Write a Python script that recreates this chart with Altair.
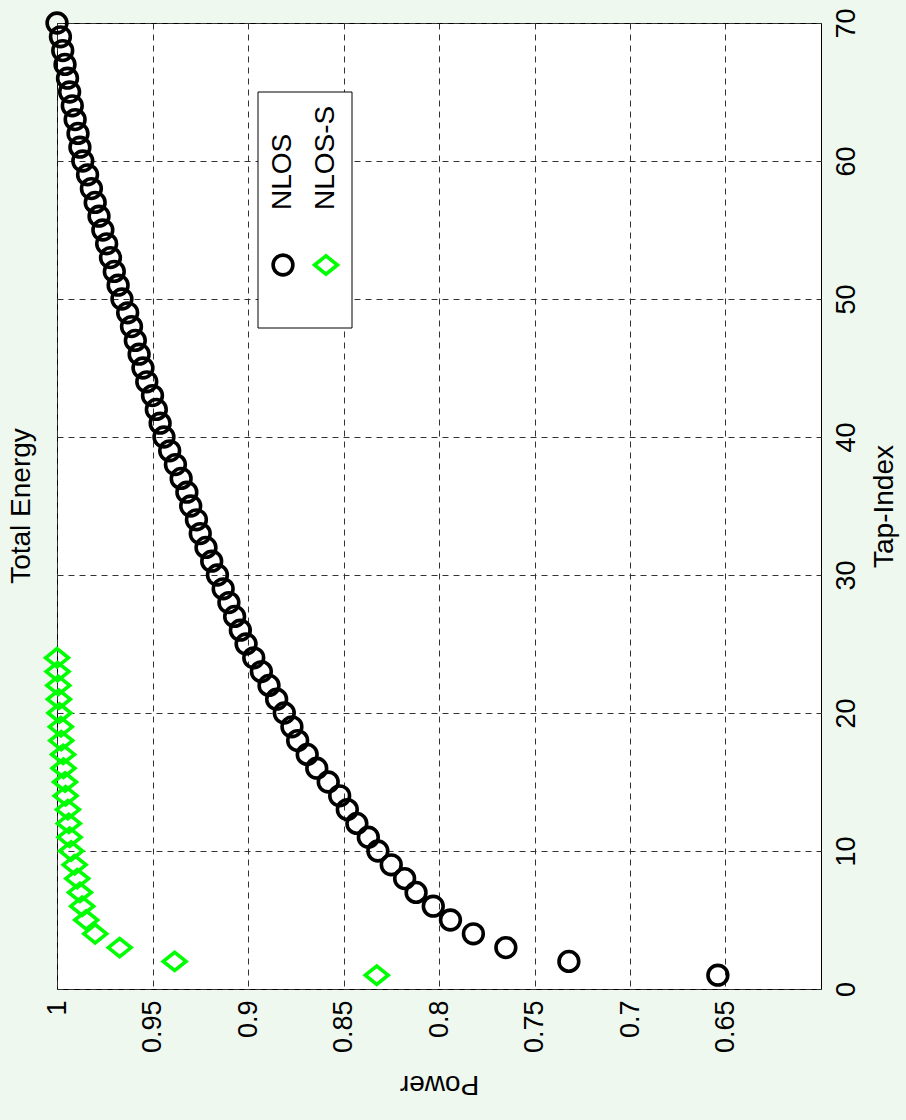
import altair as alt
import pandas as pd

# ---------------- data ----------------
SERIES = ["NLOS", "NLOS-S"]

TAP_NLOS = list(range(1, 71))
POWER_NLOS = [
    0.654, 0.732, 0.765, 0.782, 0.794, 0.803, 0.812, 0.818, 0.825, 0.832,
    0.837, 0.843, 0.848, 0.852, 0.858, 0.864, 0.869, 0.874, 0.877, 0.881,
    0.885, 0.889, 0.893, 0.897, 0.901, 0.904, 0.907, 0.910, 0.913, 0.916,
    0.919, 0.922, 0.925, 0.927, 0.930, 0.932, 0.935, 0.938, 0.941, 0.944,
    0.946, 0.948, 0.950, 0.953, 0.955, 0.957, 0.959, 0.961, 0.963, 0.966,
    0.968, 0.970, 0.972, 0.974, 0.976, 0.978, 0.980, 0.982, 0.984, 0.9865,
    0.988, 0.989, 0.9905, 0.992, 0.9934, 0.9945, 0.9958, 0.997, 0.9982, 1.0,
]

TAP_NLOS_S = list(range(1, 25))
POWER_NLOS_S = [
    0.8326, 0.9384, 0.9672, 0.980, 0.9847, 0.9868, 0.988, 0.9894,
    0.9908, 0.9926, 0.9934, 0.9938, 0.9943, 0.9955, 0.9958, 0.9966,
    0.9968, 0.9978, 0.998, 0.9987, 0.999, 0.9993, 0.9997, 1.0,
]

POWER_TICKS = [0.65, 0.7, 0.75, 0.8, 0.85, 0.9, 0.95, 1.0]
TAP_TICKS = [0, 10, 20, 30, 40, 50, 60, 70]
POWER_DOMAIN = [0.6, 1.0]
TAP_DOMAIN = [0, 70]

TITLE = "Total Energy"
X_TITLE = "Power"
Y_TITLE = "Tap-Index"

# ---------------- style ----------------
FONT = "Liberation Sans"
BG = "#EEF8EE"
MARKER_COLORS = ["#000000", "#00FF00"]
MARKER_SHAPES = ["circle", "M-1,0L0,-0.8L1,0L0,0.8Z"]
MARKER_SIZES = [390, 520]

df = pd.concat(
    [
        pd.DataFrame({"tap": TAP_NLOS, "power": POWER_NLOS, "series": SERIES[0]}),
        pd.DataFrame({"tap": TAP_NLOS_S, "power": POWER_NLOS_S, "series": SERIES[1]}),
    ],
    ignore_index=True,
)
legend_df = pd.DataFrame({"series": SERIES})

color_enc = alt.Color("series:N", scale=alt.Scale(domain=SERIES, range=MARKER_COLORS), legend=None)
shape_enc = alt.Shape("series:N", scale=alt.Scale(domain=SERIES, range=MARKER_SHAPES), legend=None)
size_enc = alt.Size("series:N", scale=alt.Scale(domain=SERIES, range=MARKER_SIZES), legend=None)

points = alt.Chart(df).mark_point(filled=False, strokeWidth=3.6, opacity=1).encode(
    x=alt.X(
        "power:Q",
        scale=alt.Scale(domain=POWER_DOMAIN, reverse=True, nice=False, zero=False),
        axis=alt.Axis(
            title=X_TITLE, values=POWER_TICKS, format="~g", orient="bottom",
            labelAngle=270, labelAlign="right", labelBaseline="middle", labelPadding=11,
            titleAngle=180, titlePadding=45,
        ),
    ),
    y=alt.Y(
        "tap:Q",
        scale=alt.Scale(domain=TAP_DOMAIN, nice=False, zero=False),
        axis=alt.Axis(
            title=Y_TITLE, values=TAP_TICKS, orient="right",
            labelAngle=270, labelAlign="center", labelBaseline="top", labelPadding=12,
            titleAngle=270, titlePadding=39,
        ),
    ),
    color=color_enc,
    shape=shape_enc,
    size=size_enc,
)

# legend (rotated, drawn inside the plot like the original)
legend_box = alt.Chart(pd.DataFrame({"k": [0]})).mark_rect(
    fill="white", stroke="black", strokeWidth=1
).encode(
    x=alt.value(201), x2=alt.value(295), y=alt.value(69), y2=alt.value(305)
)

legend_x = alt.X(
    "series:N",
    scale=alt.Scale(type="point", domain=SERIES, range=[226, 269], padding=0),
    axis=None,
)

legend_sym = alt.Chart(legend_df).mark_point(filled=False, strokeWidth=3.6, opacity=1).encode(
    x=legend_x, y=alt.value(242), color=color_enc, shape=shape_enc, size=size_enc
)

legend_txt = alt.Chart(legend_df).mark_text(
    angle=270, align="left", baseline="middle", fontSize=28, font=FONT, color="black"
).encode(x=legend_x, y=alt.value(187), text="series:N")

chart = (
    alt.layer(points, legend_box, legend_sym, legend_txt)
    .resolve_scale(x="independent")
    .properties(
        width=764,
        height=966,
        title=alt.TitleParams(
            TITLE, orient="left", anchor="middle", fontSize=28, font=FONT,
            fontWeight="normal", color="black", offset=2,
        ),
        background=BG,
        padding={"left": 57, "top": 23, "right": 85, "bottom": 131},
        autosize=alt.AutoSizeParams(type="none"),
    )
    .configure_view(fill="white", stroke="black", strokeWidth=1)
    .configure_axis(
        labelFont=FONT, labelFontSize=27, labelColor="black",
        titleFont=FONT, titleFontSize=28, titleFontWeight="normal", titleColor="black",
        grid=True, gridColor="#333333", gridDash=[6, 5], gridWidth=1, gridOpacity=1,
        ticks=False, domain=False,
    )
)

chart.save("out.html", embed_options={"renderer": "svg", "actions": False})
